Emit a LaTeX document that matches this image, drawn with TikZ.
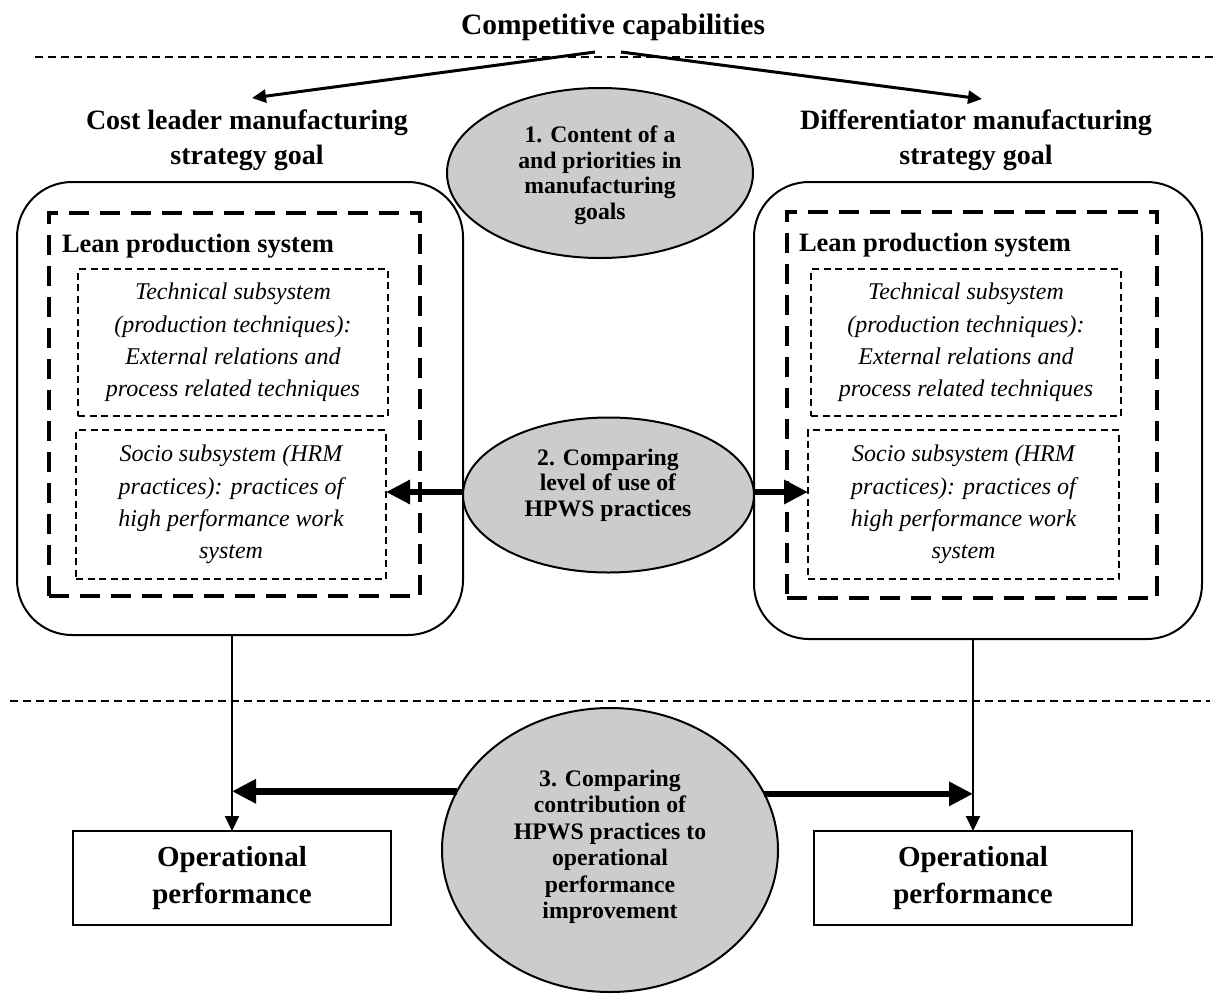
\documentclass[tikz,border=0pt]{standalone}
\usepackage{fontspec}
\setmainfont{Liberation Serif}
\usetikzlibrary{arrows.meta,shapes.geometric}
\definecolor{ellgray}{HTML}{CCCCCC}
\begin{document}
\begin{tikzpicture}[x=1pt,y=-1pt,
  every node/.style={inner sep=0pt, outer sep=0pt},
  titletext/.style={font=\fontsize{29.5}{35}\selectfont\bfseries},
  headtext/.style={font=\fontsize{28}{35}\selectfont\bfseries, align=center},
  leantext/.style={font=\fontsize{26.5}{30}\selectfont\bfseries, anchor=base west},
  elltext/.style={font=\fontsize{23.7}{25.5}\selectfont\bfseries, align=center},
  elltextb/.style={font=\fontsize{23.7}{26.5}\selectfont\bfseries, align=center},
  ell/.style={ellipse, draw, line width=2pt, fill=ellgray},
  outerbox/.style={draw, line width=2pt, rounded corners=55pt},
  leanbox/.style={draw, line width=3.5pt, dash pattern=on 20pt off 11pt},
  subbox/.style={draw, line width=1.5pt, dash pattern=on 7pt off 4.5pt, font=\fontsize{24}{32.3}\selectfont\itshape, align=center},
  sepline/.style={line width=2.5pt, dash pattern=on 8pt off 5pt},
  toparrow/.style={line width=3pt, -{Triangle[length=14pt,width=13pt]}},
  bigarrow/.style={line width=6.5pt, -{Triangle[length=24pt,width=23pt]}},
  downarrow/.style={line width=2pt, -{Triangle[length=15pt,width=14pt]}},
  opbox/.style={draw, line width=2pt, font=\fontsize{29}{37}\selectfont\bfseries, align=center}
]
\useasboundingbox (0,0) rectangle (1216,999);

% separators
\draw[sepline] (35,57) -- (1216,57);
\draw[sepline] (10,701) -- (1210,701);

% title and headings
\node[titletext] (title) at (613,27) {Competitive capabilities};
\node[headtext] (hL) at (247,140) {Cost leader manufacturing\\strategy goal};
\node[headtext] (hR) at (976,140) {Differentiator manufacturing\\strategy goal};

\coordinate (cL) at (595,52);
\coordinate (cR) at (621,52);
\coordinate (tipL) at (252,98);
\coordinate (tipR) at (982,99);
\draw[toparrow] (cL) -- (tipL);
\draw[toparrow] (cR) -- (tipR);

% outer boxes
\node[outerbox, minimum width=446pt, minimum height=453pt] (oL) at (240,408.5) {};
\node[outerbox, minimum width=448pt, minimum height=457pt] (oR) at (978,410.5) {};
\node[leanbox, minimum width=371pt, minimum height=383pt] (lL) at (234.5,404.5) {};
\node[leanbox, minimum width=370pt, minimum height=386pt] (lR) at (972,405) {};
\node[leantext] (leanL) at (62,252) {Lean production system};
\node[leantext] (leanR) at (799,251) {Lean production system};

\node[subbox, minimum width=310pt, minimum height=147pt] (tL) at (233,342.5) {Technical subsystem\\(production techniques):\\External relations and\\process related techniques};
\node[subbox, minimum width=310pt, minimum height=149pt] (sL) at (231,504.5) {Socio subsystem (HRM\\practices): practices of\\high performance work\\system};
\node[subbox, minimum width=310pt, minimum height=147pt] (tR) at (966,342.5) {Technical subsystem\\(production techniques):\\External relations and\\process related techniques};
\node[subbox, minimum width=311pt, minimum height=149pt] (sR) at (963.5,504.5) {Socio subsystem (HRM\\practices): practices of\\high performance work\\system};

% ellipses
\node[ell, minimum width=306pt, minimum height=170pt] (e1) at (600,173) {};
\node[elltext] (t1) at (600,175.5) {1. Content of a\\and priorities in\\manufacturing\\goals};
\node[ell, minimum width=291pt, minimum height=155pt] (e2) at (608.5,495) {};
\node[elltext] (t2) at (608,485) {2. Comparing\\level of use of\\HPWS practices};
\node[ell, minimum width=336pt, minimum height=284pt] (e3) at (610,850) {};
\node[elltextb] (t3) at (610,847) {3. Comparing\\contribution of\\HPWS practices to\\operational\\performance\\improvement};

% operational boxes
\node[opbox, minimum width=318pt, minimum height=94pt] (opL) at (232,878) {Operational\\performance};
\node[opbox, minimum width=318pt, minimum height=94pt] (opR) at (973,878) {Operational\\performance};

% arrows from ellipse 2
\coordinate (a2L) at ([yshift=3pt]e2.west);
\coordinate (a2R) at ([yshift=3pt]e2.east);
\draw[bigarrow] (a2L) -- (a2L -| sL.east);
\draw[bigarrow] (a2R) -- (a2R -| sR.west);

% arrows from ellipse 3
\coordinate (a3L) at (e3.159.7);
\coordinate (a3R) at (e3.20.3);
\draw[bigarrow] (a3L) -- (a3L -| opL.north);
\draw[bigarrow] (a3R) -- (a3R -| opR.north);

% vertical arrows
\draw[downarrow] (opL.north |- oL.south) -- (opL.north);
\draw[downarrow] (opR.north |- oR.south) -- (opR.north);
\end{tikzpicture}
\end{document}
